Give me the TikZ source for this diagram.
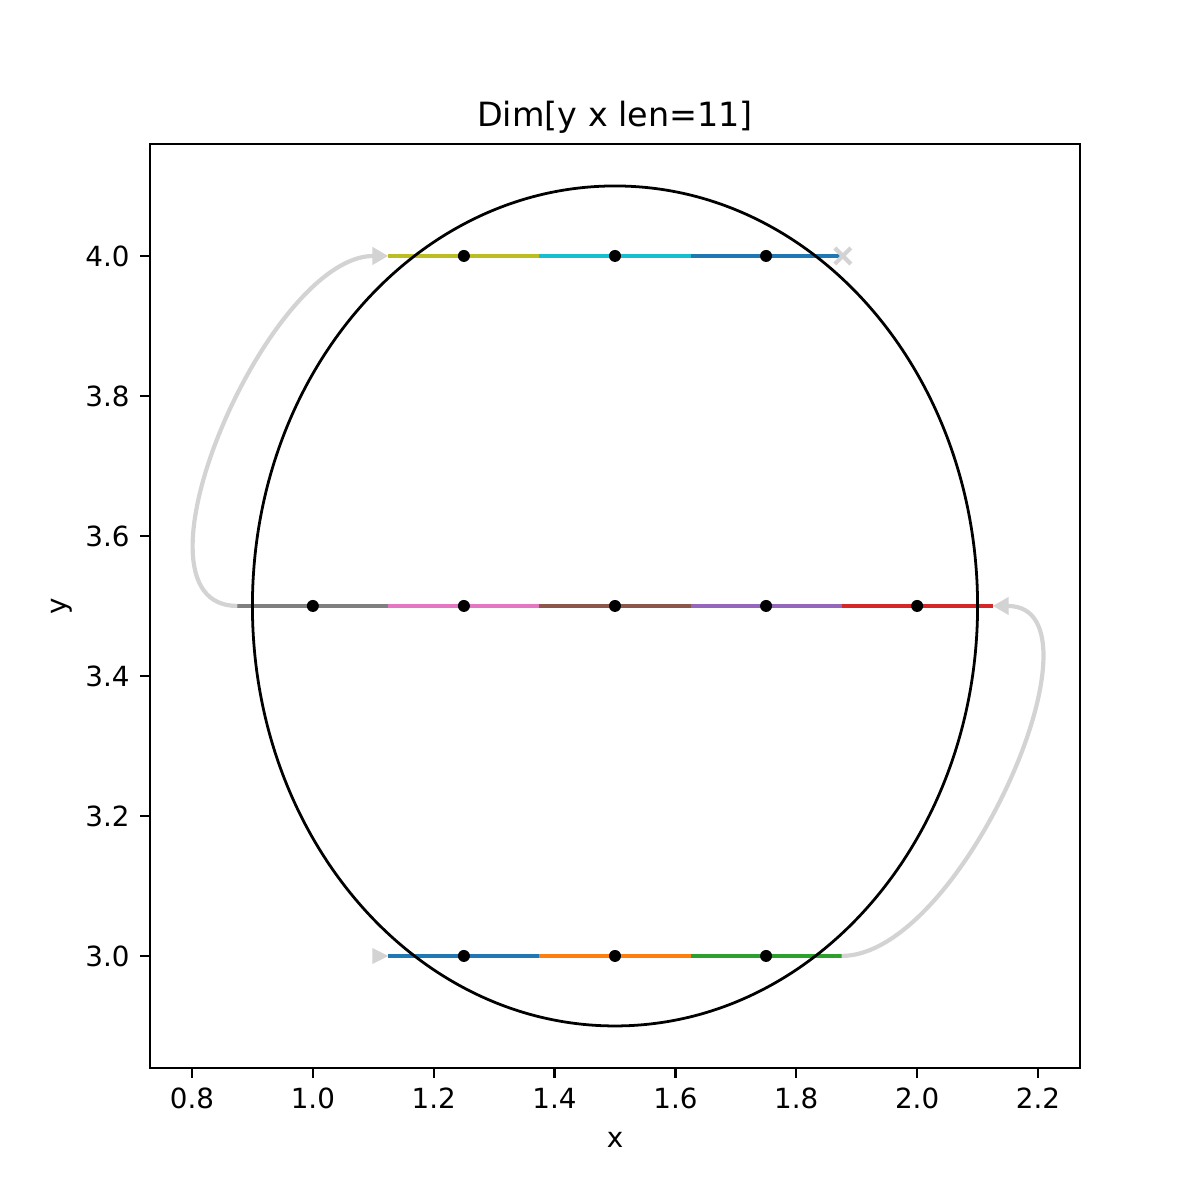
\documentclass[tikz,border=0pt]{standalone}
\usepackage{fontspec}
\setmainfont{DejaVu Sans}
\usepackage{xcolor}
\usetikzlibrary{arrows.meta}
\definecolor{tabblue}{HTML}{1F77B4}
\definecolor{taborange}{HTML}{FF7F0E}
\definecolor{tabgreen}{HTML}{2CA02C}
\definecolor{tabred}{HTML}{D62728}
\definecolor{tabpurple}{HTML}{9467BD}
\definecolor{tabbrown}{HTML}{8C564B}
\definecolor{tabpink}{HTML}{E377C2}
\definecolor{tabgray}{HTML}{7F7F7F}
\definecolor{tabolive}{HTML}{BCBD22}
\definecolor{tabcyan}{HTML}{17BECF}
\definecolor{jumpgray}{HTML}{D3D3D3}

\begin{document}
\begin{tikzpicture}[
  x=6.043cm, y=7cm,
  font=\fontsize{7.9}{9.5}\selectfont,
  seg/.style={line width=1.19pt},
  dot/.style={circle, fill=black, inner sep=0pt, minimum size=0.12cm},
  jump/.style={draw=jumpgray, line width=1.19pt, -{Triangle[length=0.16cm, width=0.17cm]}},
  frame/.style={line width=0.63pt},
  ticklabel/.style={inner sep=0pt}
]
\useasboundingbox (0.4823,2.6514) rectangle (2.4680,4.3657);

\coordinate (bstart) at (1.125,3.0);
\coordinate (bend) at (1.875,3.0);
\coordinate (mstart) at (0.875,3.5);
\coordinate (mend) at (2.125,3.5);
\coordinate (tstart) at (1.125,4.0);
\coordinate (tend) at (1.877,4.0);

\foreach \a/\b/\c in {1.125/1.375/tabblue, 1.375/1.625/taborange, 1.625/1.875/tabgreen}
  \draw[seg, draw=\c] (\a,3.0) -- (\b,3.0);
\foreach \a/\b/\c in {0.875/1.125/tabgray, 1.125/1.375/tabpink, 1.375/1.625/tabbrown, 1.625/1.875/tabpurple, 1.875/2.125/tabred}
  \draw[seg, draw=\c] (\a,3.5) -- (\b,3.5);
\foreach \a/\b/\c in {1.125/1.375/tabolive, 1.375/1.625/tabcyan, 1.625/1.875/tabblue}
  \draw[seg, draw=\c] (\a,4.0) -- (\b,4.0);

\draw[jump] (bend) .. controls +(0.2,0) and +(0.2,0) .. (mend);
\draw[jump] (mstart) .. controls +(-0.2,0) and +(-0.2,0) .. (tstart);
\fill[jumpgray] (bstart) -- ++(-0.16cm,0.08cm) -- ++(0,-0.16cm) -- cycle;
\draw[jumpgray, line width=1.19pt] (tend) ++(-0.08cm,-0.08cm) -- ++(0.16cm,0.16cm) ++(-0.16cm,0) -- ++(0.16cm,-0.16cm);

\draw[line width=0.79pt] (1.5,3.5) ellipse [x radius=0.6, y radius=0.6];

\node[dot] (b1) at (1.25,3.0) {};
\node[dot] (b2) at (1.5,3.0) {};
\node[dot] (b3) at (1.75,3.0) {};
\node[dot] (m1) at (1.0,3.5) {};
\node[dot] (m2) at (1.25,3.5) {};
\node[dot] (m3) at (1.5,3.5) {};
\node[dot] (m4) at (1.75,3.5) {};
\node[dot] (m5) at (2.0,3.5) {};
\node[dot] (t1) at (1.25,4.0) {};
\node[dot] (t2) at (1.5,4.0) {};
\node[dot] (t3) at (1.75,4.0) {};

\draw[frame] (0.73,2.84) rectangle (2.27,4.16);
\foreach \v in {0.8,1.0,1.2,1.4,1.6,1.8,2.0,2.2} {
  \draw[frame] (\v,2.84) -- ++(0,-0.097cm);
  \node[ticklabel, anchor=north] (xt\v) at ([yshift=-0.194cm]\v,2.84) {\v};
}
\foreach \v in {3.0,3.2,3.4,3.6,3.8,4.0} {
  \draw[frame] (0.73,\v) -- ++(-0.097cm,0);
  \node[ticklabel, anchor=east] (yt\v) at ([xshift=-0.194cm]0.73,\v) {\v};
}
\node (xlabel) at (1.5,2.7371) {x};
\node[rotate=90] (ylabel) at (0.5849,3.5) {y};
\node[anchor=base, inner sep=0pt, font=\fontsize{9.5}{11.4}\selectfont] (title) at (1.5,4.1843) {Dim[y x len=11]};
\end{tikzpicture}
\end{document}
